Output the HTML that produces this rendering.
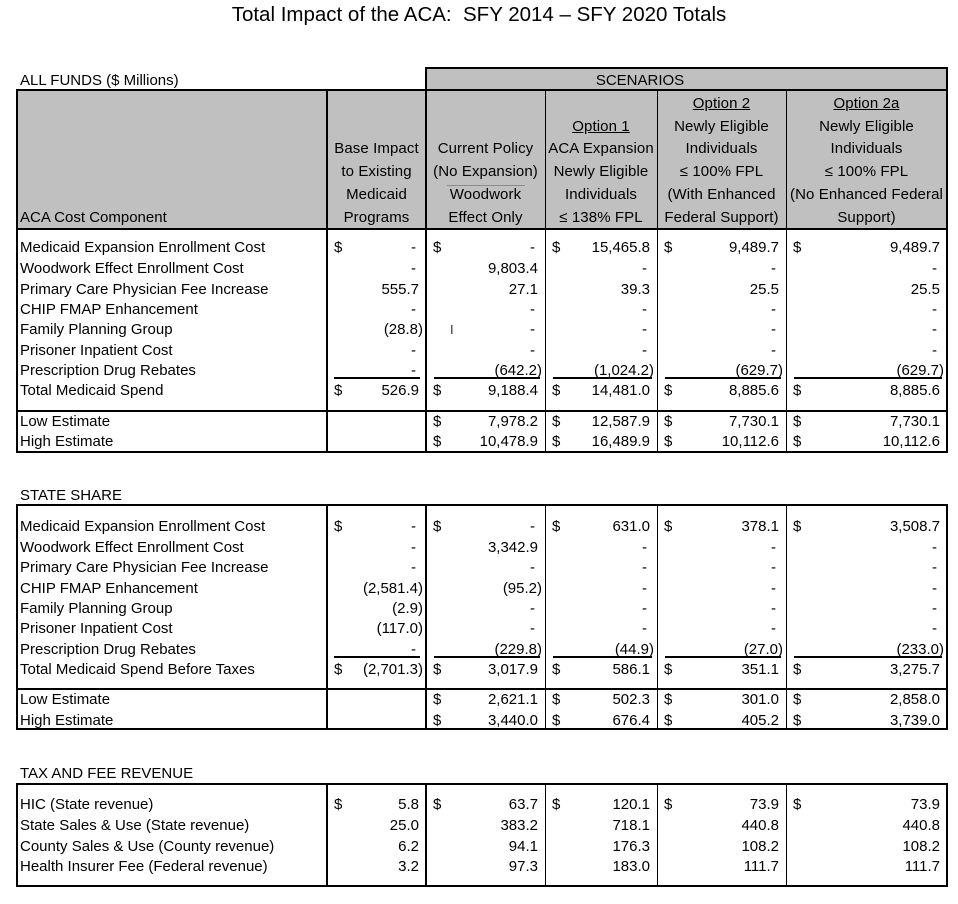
<!DOCTYPE html>
<html><head><meta charset="utf-8">
<style>
*{margin:0;padding:0;box-sizing:border-box}
body{width:958px;height:904px;background:#fff;position:relative;overflow:hidden;font-family:"Liberation Sans",sans-serif;color:#000}
.a{position:absolute}
.t{position:absolute;font-size:15px;line-height:20px;padding-top:1px;white-space:nowrap}
.g{position:absolute;background:#c0c0c0}
.hb{position:absolute;background:#000}
.col{position:absolute;top:0;height:904px}
.col .t.d{left:7px}
.col .t.v{right:7px}
.col .t.p{right:3px}
.col .t.m{right:10px}
.hd{position:absolute;font-size:15px;line-height:20px;padding-top:1px;white-space:nowrap;text-align:center;letter-spacing:0.1px}
.u{text-decoration:underline}
</style></head><body>
<div class="a" style="left:0;top:3px;width:958px;text-align:center;font-size:20.5px;line-height:24px">Total Impact of the ACA:&nbsp; SFY 2014 – SFY 2020 Totals</div>

<!-- Section 1 -->
<div class="t" style="left:20px;top:70px">ALL FUNDS ($ Millions)</div>
<div class="g" style="left:426px;top:68px;width:521px;height:22px"></div>
<div class="g" style="left:17px;top:90px;width:930px;height:139px"></div>
<div class="hb" style="left:426px;top:67px;width:522px;height:2px"></div>
<div class="hb" style="left:946px;top:67px;width:2px;height:23px"></div>
<div class="hb" style="left:425px;top:67px;width:2px;height:23px"></div>
<div class="hb" style="left:16px;top:89px;width:932px;height:2px"></div>
<div class="hb" style="left:16px;top:228px;width:932px;height:2px"></div>
<div class="hb" style="left:16px;top:410px;width:932px;height:2px"></div>
<div class="hb" style="left:16px;top:451px;width:932px;height:2px"></div>
<div class="hb" style="left:16px;top:89px;width:2px;height:364px"></div>
<div class="hb" style="left:946px;top:89px;width:2px;height:364px"></div>
<div class="hb" style="left:326px;top:89px;width:2px;height:364px"></div>
<div class="hb" style="left:425px;top:89px;width:2px;height:364px"></div>
<div class="hb" style="left:545px;top:89px;width:1px;height:364px"></div>
<div class="hb" style="left:657px;top:89px;width:1px;height:364px"></div>
<div class="hb" style="left:786px;top:89px;width:1px;height:364px"></div>
<div class="t" style="left:640px;top:70px;width:120px;margin-left:-60px;text-align:center">SCENARIOS</div>
<div class="t" style="left:20px;top:207px">ACA Cost Component</div>
<div class="hd" style="left:327px;width:99px;top:138px">Base Impact</div>
<div class="hd" style="left:327px;width:99px;top:161px">to Existing</div>
<div class="hd" style="left:327px;width:99px;top:184px">Medicaid</div>
<div class="hd" style="left:327px;width:99px;top:207px">Programs</div>
<div class="hd" style="left:426px;width:119px;top:138px">Current Policy</div>
<div class="hd" style="left:426px;width:119px;top:161px">(No Expansion)</div>
<div class="a" style="left:447px;top:185px;width:78px;height:1px;background:#7a8fb0"></div>
<div class="hd" style="left:426px;width:119px;top:184px">Woodwork</div>
<div class="hd" style="left:426px;width:119px;top:207px">Effect Only</div>
<div class="hd u" style="left:545px;width:112px;top:116px">Option 1</div>
<div class="hd" style="left:545px;width:112px;top:138px">ACA Expansion</div>
<div class="hd" style="left:545px;width:112px;top:161px">Newly Eligible</div>
<div class="hd" style="left:545px;width:112px;top:184px">Individuals</div>
<div class="hd" style="left:545px;width:112px;top:207px">≤ 138% FPL</div>
<div class="hd u" style="left:657px;width:129px;top:93px">Option 2</div>
<div class="hd" style="left:657px;width:129px;top:116px">Newly Eligible</div>
<div class="hd" style="left:657px;width:129px;top:138px">Individuals</div>
<div class="hd" style="left:657px;width:129px;top:161px">≤ 100% FPL</div>
<div class="hd" style="left:657px;width:129px;top:184px">(With Enhanced</div>
<div class="hd" style="left:657px;width:129px;top:207px">Federal Support)</div>
<div class="hd u" style="left:786px;width:161px;top:93px">Option 2a</div>
<div class="hd" style="left:786px;width:161px;top:116px">Newly Eligible</div>
<div class="hd" style="left:786px;width:161px;top:138px">Individuals</div>
<div class="hd" style="left:786px;width:161px;top:161px">≤ 100% FPL</div>
<div class="hd" style="left:786px;width:161px;top:184px">(No Enhanced Federal</div>
<div class="hd" style="left:786px;width:161px;top:207px">Support)</div>

<div class="t" style="left:20px;top:237px">Medicaid Expansion Enrollment Cost</div>
<div class="t" style="left:20px;top:258px">Woodwork Effect Enrollment Cost</div>
<div class="t" style="left:20px;top:279px">Primary Care Physician Fee Increase</div>
<div class="t" style="left:20px;top:299px">CHIP FMAP Enhancement</div>
<div class="t" style="left:20px;top:319px">Family Planning Group</div>
<div class="t" style="left:20px;top:340px">Prisoner Inpatient Cost</div>
<div class="t" style="left:20px;top:360px">Prescription Drug Rebates</div>
<div class="t" style="left:20px;top:380px">Total Medicaid Spend</div>
<div class="t" style="left:20px;top:411px">Low Estimate</div>
<div class="t" style="left:20px;top:431px">High Estimate</div>

<!-- Section 2 -->
<div class="t" style="left:20px;top:485px">STATE SHARE</div>
<div class="hb" style="left:16px;top:504px;width:932px;height:2px"></div>
<div class="hb" style="left:16px;top:688px;width:932px;height:2px"></div>
<div class="hb" style="left:16px;top:728px;width:932px;height:2px"></div>
<div class="hb" style="left:16px;top:504px;width:2px;height:226px"></div>
<div class="hb" style="left:946px;top:504px;width:2px;height:226px"></div>
<div class="hb" style="left:326px;top:504px;width:2px;height:226px"></div>
<div class="hb" style="left:425px;top:504px;width:2px;height:226px"></div>
<div class="hb" style="left:545px;top:504px;width:1px;height:226px"></div>
<div class="hb" style="left:657px;top:504px;width:1px;height:226px"></div>
<div class="hb" style="left:786px;top:504px;width:1px;height:226px"></div>
<div class="t" style="left:20px;top:516px">Medicaid Expansion Enrollment Cost</div>
<div class="t" style="left:20px;top:537px">Woodwork Effect Enrollment Cost</div>
<div class="t" style="left:20px;top:557px">Primary Care Physician Fee Increase</div>
<div class="t" style="left:20px;top:578px">CHIP FMAP Enhancement</div>
<div class="t" style="left:20px;top:598px">Family Planning Group</div>
<div class="t" style="left:20px;top:618px">Prisoner Inpatient Cost</div>
<div class="t" style="left:20px;top:639px">Prescription Drug Rebates</div>
<div class="t" style="left:20px;top:659px">Total Medicaid Spend Before Taxes</div>
<div class="t" style="left:20px;top:689px">Low Estimate</div>
<div class="t" style="left:20px;top:710px">High Estimate</div>

<!-- Section 3 -->
<div class="t" style="left:20px;top:763px">TAX AND FEE REVENUE</div>
<div class="hb" style="left:16px;top:783px;width:932px;height:2px"></div>
<div class="hb" style="left:16px;top:885px;width:932px;height:2px"></div>
<div class="hb" style="left:16px;top:783px;width:2px;height:104px"></div>
<div class="hb" style="left:946px;top:783px;width:2px;height:104px"></div>
<div class="hb" style="left:326px;top:783px;width:2px;height:104px"></div>
<div class="hb" style="left:425px;top:783px;width:2px;height:104px"></div>
<div class="hb" style="left:545px;top:783px;width:1px;height:104px"></div>
<div class="hb" style="left:657px;top:783px;width:1px;height:104px"></div>
<div class="hb" style="left:786px;top:783px;width:1px;height:104px"></div>
<div class="t" style="left:20px;top:794px">HIC (State revenue)</div>
<div class="t" style="left:20px;top:815px">State Sales &amp; Use (State revenue)</div>
<div class="t" style="left:20px;top:836px">County Sales &amp; Use (County revenue)</div>
<div class="t" style="left:20px;top:856px">Health Insurer Fee (Federal revenue)</div>

<!-- Column B -->
<div class="col" style="left:327px;width:99px">
<div class="a" style="left:7px;right:6px;top:377px;height:2px;background:#000"></div>
<div class="a" style="left:7px;right:6px;top:656px;height:2px;background:#000"></div>
<div class="t d" style="top:237px">$</div><div class="t m" style="top:237px">-</div>
<div class="t m" style="top:258px">-</div>
<div class="t v" style="top:279px">555.7</div>
<div class="t m" style="top:299px">-</div>
<div class="t p" style="top:319px">(28.8)</div>
<div class="t m" style="top:340px">-</div>
<div class="t m" style="top:360px">-</div>
<div class="t d" style="top:380px">$</div><div class="t v" style="top:380px">526.9</div>
<div class="t d" style="top:516px">$</div><div class="t m" style="top:516px">-</div>
<div class="t m" style="top:537px">-</div>
<div class="t m" style="top:557px">-</div>
<div class="t p" style="top:578px">(2,581.4)</div>
<div class="t p" style="top:598px">(2.9)</div>
<div class="t p" style="top:618px">(117.0)</div>
<div class="t m" style="top:639px">-</div>
<div class="t d" style="top:659px">$</div><div class="t p" style="top:659px">(2,701.3)</div>
<div class="t d" style="top:794px">$</div><div class="t v" style="top:794px">5.8</div>
<div class="t v" style="top:815px">25.0</div>
<div class="t v" style="top:836px">6.2</div>
<div class="t v" style="top:856px">3.2</div>
</div>

<!-- Column C -->
<div class="col" style="left:426px;width:119px">
<div class="a" style="left:8px;right:5px;top:377px;height:2px;background:#000"></div>
<div class="a" style="left:8px;right:5px;top:656px;height:2px;background:#000"></div>
<div class="t d" style="top:237px">$</div><div class="t m" style="top:237px">-</div>
<div class="t v" style="top:258px">9,803.4</div>
<div class="t v" style="top:279px">27.1</div>
<div class="t m" style="top:299px">-</div>
<div class="t m" style="top:319px">-</div>
<div class="t" style="left:24px;top:319px;font-size:13px;color:#333">I</div>
<div class="t m" style="top:340px">-</div>
<div class="t p" style="top:360px">(642.2)</div>
<div class="t d" style="top:380px">$</div><div class="t v" style="top:380px">9,188.4</div>
<div class="t d" style="top:411px">$</div><div class="t v" style="top:411px">7,978.2</div>
<div class="t d" style="top:431px">$</div><div class="t v" style="top:431px">10,478.9</div>
<div class="t d" style="top:516px">$</div><div class="t m" style="top:516px">-</div>
<div class="t v" style="top:537px">3,342.9</div>
<div class="t m" style="top:557px">-</div>
<div class="t p" style="top:578px">(95.2)</div>
<div class="t m" style="top:598px">-</div>
<div class="t m" style="top:618px">-</div>
<div class="t p" style="top:639px">(229.8)</div>
<div class="t d" style="top:659px">$</div><div class="t v" style="top:659px">3,017.9</div>
<div class="t d" style="top:689px">$</div><div class="t v" style="top:689px">2,621.1</div>
<div class="t d" style="top:710px">$</div><div class="t v" style="top:710px">3,440.0</div>
<div class="t d" style="top:794px">$</div><div class="t v" style="top:794px">63.7</div>
<div class="t v" style="top:815px">383.2</div>
<div class="t v" style="top:836px">94.1</div>
<div class="t v" style="top:856px">97.3</div>
</div>

<!-- Column D -->
<div class="col" style="left:545px;width:112px">
<div class="a" style="left:8px;right:5px;top:377px;height:2px;background:#000"></div>
<div class="a" style="left:8px;right:5px;top:656px;height:2px;background:#000"></div>
<div class="t d" style="top:237px">$</div><div class="t v" style="top:237px">15,465.8</div>
<div class="t m" style="top:258px">-</div>
<div class="t v" style="top:279px">39.3</div>
<div class="t m" style="top:299px">-</div>
<div class="t m" style="top:319px">-</div>
<div class="t m" style="top:340px">-</div>
<div class="t p" style="top:360px">(1,024.2)</div>
<div class="t d" style="top:380px">$</div><div class="t v" style="top:380px">14,481.0</div>
<div class="t d" style="top:411px">$</div><div class="t v" style="top:411px">12,587.9</div>
<div class="t d" style="top:431px">$</div><div class="t v" style="top:431px">16,489.9</div>
<div class="t d" style="top:516px">$</div><div class="t v" style="top:516px">631.0</div>
<div class="t m" style="top:537px">-</div>
<div class="t m" style="top:557px">-</div>
<div class="t m" style="top:578px">-</div>
<div class="t m" style="top:598px">-</div>
<div class="t m" style="top:618px">-</div>
<div class="t p" style="top:639px">(44.9)</div>
<div class="t d" style="top:659px">$</div><div class="t v" style="top:659px">586.1</div>
<div class="t d" style="top:689px">$</div><div class="t v" style="top:689px">502.3</div>
<div class="t d" style="top:710px">$</div><div class="t v" style="top:710px">676.4</div>
<div class="t d" style="top:794px">$</div><div class="t v" style="top:794px">120.1</div>
<div class="t v" style="top:815px">718.1</div>
<div class="t v" style="top:836px">176.3</div>
<div class="t v" style="top:856px">183.0</div>
</div>

<!-- Column E -->
<div class="col" style="left:657px;width:129px">
<div class="a" style="left:8px;right:5px;top:377px;height:2px;background:#000"></div>
<div class="a" style="left:8px;right:5px;top:656px;height:2px;background:#000"></div>
<div class="t d" style="top:237px">$</div><div class="t v" style="top:237px">9,489.7</div>
<div class="t m" style="top:258px">-</div>
<div class="t v" style="top:279px">25.5</div>
<div class="t m" style="top:299px">-</div>
<div class="t m" style="top:319px">-</div>
<div class="t m" style="top:340px">-</div>
<div class="t p" style="top:360px">(629.7)</div>
<div class="t d" style="top:380px">$</div><div class="t v" style="top:380px">8,885.6</div>
<div class="t d" style="top:411px">$</div><div class="t v" style="top:411px">7,730.1</div>
<div class="t d" style="top:431px">$</div><div class="t v" style="top:431px">10,112.6</div>
<div class="t d" style="top:516px">$</div><div class="t v" style="top:516px">378.1</div>
<div class="t m" style="top:537px">-</div>
<div class="t m" style="top:557px">-</div>
<div class="t m" style="top:578px">-</div>
<div class="t m" style="top:598px">-</div>
<div class="t m" style="top:618px">-</div>
<div class="t p" style="top:639px">(27.0)</div>
<div class="t d" style="top:659px">$</div><div class="t v" style="top:659px">351.1</div>
<div class="t d" style="top:689px">$</div><div class="t v" style="top:689px">301.0</div>
<div class="t d" style="top:710px">$</div><div class="t v" style="top:710px">405.2</div>
<div class="t d" style="top:794px">$</div><div class="t v" style="top:794px">73.9</div>
<div class="t v" style="top:815px">440.8</div>
<div class="t v" style="top:836px">108.2</div>
<div class="t v" style="top:856px">111.7</div>
</div>

<!-- Column F -->
<div class="col" style="left:786px;width:161px">
<div class="a" style="left:8px;right:5px;top:377px;height:2px;background:#000"></div>
<div class="a" style="left:8px;right:5px;top:656px;height:2px;background:#000"></div>
<div class="t d" style="top:237px">$</div><div class="t v" style="top:237px">9,489.7</div>
<div class="t m" style="top:258px">-</div>
<div class="t v" style="top:279px">25.5</div>
<div class="t m" style="top:299px">-</div>
<div class="t m" style="top:319px">-</div>
<div class="t m" style="top:340px">-</div>
<div class="t p" style="top:360px">(629.7)</div>
<div class="t d" style="top:380px">$</div><div class="t v" style="top:380px">8,885.6</div>
<div class="t d" style="top:411px">$</div><div class="t v" style="top:411px">7,730.1</div>
<div class="t d" style="top:431px">$</div><div class="t v" style="top:431px">10,112.6</div>
<div class="t d" style="top:516px">$</div><div class="t v" style="top:516px">3,508.7</div>
<div class="t m" style="top:537px">-</div>
<div class="t m" style="top:557px">-</div>
<div class="t m" style="top:578px">-</div>
<div class="t m" style="top:598px">-</div>
<div class="t m" style="top:618px">-</div>
<div class="t p" style="top:639px">(233.0)</div>
<div class="t d" style="top:659px">$</div><div class="t v" style="top:659px">3,275.7</div>
<div class="t d" style="top:689px">$</div><div class="t v" style="top:689px">2,858.0</div>
<div class="t d" style="top:710px">$</div><div class="t v" style="top:710px">3,739.0</div>
<div class="t d" style="top:794px">$</div><div class="t v" style="top:794px">73.9</div>
<div class="t v" style="top:815px">440.8</div>
<div class="t v" style="top:836px">108.2</div>
<div class="t v" style="top:856px">111.7</div>
</div>
</body></html>
